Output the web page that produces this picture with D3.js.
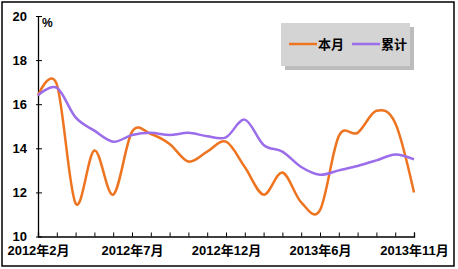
<!DOCTYPE html>
<html>
<head>
<meta charset="utf-8">
<script src="https://cdn.jsdelivr.net/npm/d3@7"></script>
<style>
  body { margin: 0; background: #fff; }
  text { font-family: "Liberation Sans", "Noto Sans CJK SC", sans-serif; font-weight: bold; }
</style>
</head>
<body>
<div id="graf"></div>
<script>
const anchoTotal = 458
const altoTotal = 269

// Data
const meses = [
  "2012年2月", "2012年3月", "2012年4月", "2012年5月", "2012年6月", "2012年7月",
  "2012年8月", "2012年9月", "2012年10月", "2012年11月", "2012年12月",
  "2013年2月", "2013年3月", "2013年4月", "2013年5月", "2013年6月",
  "2013年7月", "2013年8月", "2013年9月", "2013年10月", "2013年11月",
]
const benyue = [16.4, 16.9, 11.5, 13.9, 11.9, 14.75, 14.65, 14.2, 13.4, 13.85, 14.3,
  13.15, 11.9, 12.9, 11.55, 11.2, 14.55, 14.7, 15.7, 15.15, 12.0]
const leiji = [16.4, 16.75, 15.4, 14.8, 14.3, 14.6, 14.7, 14.6, 14.7, 14.55, 14.5,
  15.3, 14.15, 13.85, 13.15, 12.8, 13.0, 13.2, 13.45, 13.72, 13.5]
const yTicks = [10, 12, 14, 16, 18, 20]
const xLabels = ["2012年2月", "2012年7月", "2012年12月", "2013年6月", "2013年11月"]
const series = [
  { nombre: "本月", valores: benyue, color: "#EE7420" },
  { nombre: "累计", valores: leiji, color: "#9B6DEA" },
]

const svg = d3.select("#graf")
  .append("svg")
  .attr("width", anchoTotal)
  .attr("height", altoTotal)

// marco
svg.append("rect")
  .attr("x", 2).attr("y", 2)
  .attr("width", 452).attr("height", 264)
  .attr("fill", "#fff")
  .attr("stroke", "#000")
  .attr("stroke-width", 1.5)

// Escaladores
const x = d3.scalePoint().domain(meses).range([38, 414])
const y = d3.scaleLinear().domain([10, 20]).range([236.5, 16])

// eje y
const ejeY = svg.append("g")
  .attr("transform", "translate(38,0)")
  .call(d3.axisLeft(y).tickValues(yTicks).tickSize(0).tickPadding(11))
ejeY.select(".domain").attr("stroke", "#000").attr("stroke-width", 1.3)
ejeY.selectAll(".tick line").remove()
ejeY.selectAll(".tick").append("line")
  .attr("x1", -2).attr("x2", 4)
  .attr("stroke", "#000").attr("stroke-width", 1)
ejeY.selectAll(".tick text")
  .attr("font-size", 13).attr("fill", "#000")

// eje x
const ejeX = svg.append("g")
  .attr("transform", "translate(0,236.5)")
  .call(d3.axisBottom(x).tickSize(-4).tickPadding(9)
    .tickFormat(d => xLabels.includes(d) ? d : ""))
ejeX.select(".domain").attr("stroke", "#000").attr("stroke-width", 1.3)
ejeX.selectAll(".tick line").attr("stroke", "#000")
ejeX.selectAll(".tick text")
  .attr("font-size", 13).attr("fill", "#000")

svg.append("text")
  .attr("x", 42).attr("y", 27)
  .attr("font-size", 12)
  .attr("font-weight", "normal")
  .text("%")

// lineas
const linea = d3.line()
  .x((d, i) => x(meses[i]))
  .y(d => y(d))
  .curve(d3.curveCardinal.tension(0))

svg.selectAll(".serie")
  .data(series)
  .join("path")
  .attr("class", "serie")
  .attr("d", d => linea(d.valores))
  .attr("fill", "none")
  .attr("stroke", d => d.color)
  .attr("stroke-width", 2.5)

// leyenda
const ley = svg.append("g").attr("transform", "translate(281,23)")
ley.append("rect")
  .attr("x", 4).attr("y", 4)
  .attr("width", 129).attr("height", 43)
  .attr("fill", "#8f8f8f")
  .attr("opacity", 0.6)
ley.append("rect")
  .attr("width", 129).attr("height", 43)
  .attr("fill", "#d4d4d4")

const items = ley.selectAll(".item")
  .data(series)
  .join("g")
  .attr("transform", (d, i) => `translate(${8 + i * 63},21)`)
items.append("line")
  .attr("x1", 0).attr("x2", 28)
  .attr("stroke", d => d.color)
  .attr("stroke-width", 2.5)
items.append("text")
  .attr("x", 29).attr("y", 5)
  .attr("font-size", 13)
  .attr("font-family", "Noto Sans CJK SC")
  .text(d => d.nombre)
</script>
</body>
</html>
